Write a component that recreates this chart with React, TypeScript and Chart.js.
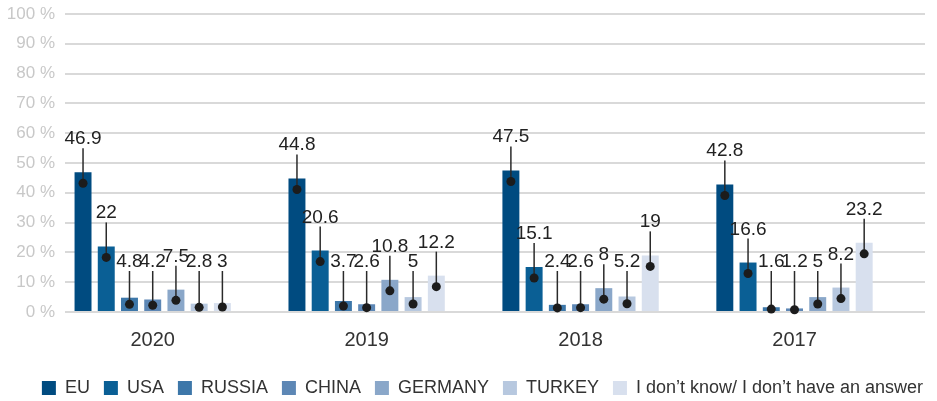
import React, { useEffect, useRef } from 'react';
import { Chart, registerables } from 'chart.js';
Chart.register(...registerables);

const years = ['2020', '2019', '2018', '2017'];
const seriesNames = ['EU', 'USA', 'RUSSIA', 'CHINA', 'GERMANY', 'TURKEY', 'I don’t know/ I don’t have an answer'];
const euValues = [46.9, 44.8, 47.5, 42.8];
const usaValues = [22, 20.6, 15.1, 16.6];
const russiaValues = [4.8, 3.7, 2.4, 1.6];
const chinaValues = [4.2, 2.6, 2.6, 1.2];
const germanyValues = [7.5, 10.8, 8, 5];
const turkeyValues = [2.8, 5, 5.2, 8.2];
const dontKnowValues = [3, 12.2, 19, 23.2];
const seriesValues = [euValues, usaValues, russiaValues, chinaValues, germanyValues, turkeyValues, dontKnowValues];
const seriesColors = ['#004b80', '#0a5f95', '#3d77a9', '#5d87b5', '#8aa7c9', '#b7c8df', '#d8e0ee'];
const yTickValues = [0, 10, 20, 30, 40, 50, 60, 70, 80, 90, 100];

const leaderLabels = {
  id: 'leaderLabels',
  afterLayout(chart: any) {
    const lg = chart.legend;
    if (lg) {
      lg.left += 20;
      lg.right += 20;
    }
  },
  afterDatasetsDraw(chart: any) {
    const ctx = chart.ctx;
    ctx.save();
    chart.data.datasets.forEach((ds: any, di: number) => {
      const meta = chart.getDatasetMeta(di);
      meta.data.forEach((bar: any, i: number) => {
        const { x, y, base } = bar.getProps(['x', 'y', 'base'], true);
        const dotY = Math.min(y + 11, (y + base) / 2);
        const lineTop = Math.min(y - 24, base - 40);
        ctx.strokeStyle = '#2a2a2a';
        ctx.lineWidth = 1.5;
        ctx.beginPath();
        ctx.moveTo(x, dotY);
        ctx.lineTo(x, lineTop);
        ctx.stroke();
        ctx.fillStyle = '#1c1c1c';
        ctx.beginPath();
        ctx.arc(x, dotY, 4.5, 0, Math.PI * 2);
        ctx.fill();
        ctx.font = '19px "Liberation Sans"';
        ctx.textAlign = 'center';
        ctx.textBaseline = 'alphabetic';
        ctx.fillStyle = '#222222';
        ctx.fillText(String(ds.data[i].y), x, lineTop - 4);
      });
    });
    ctx.restore();
  },
};

export default function App() {
  const ref = useRef<HTMLCanvasElement>(null);
  useEffect(() => {
    document.body.style.margin = '0';
    const canvas = ref.current!;
    const chart = new Chart(canvas, {
      type: 'bar',
      data: {
        datasets: seriesNames.map((name, si) => ({
          label: name,
          data: seriesValues[si].map((v, i) => ({ x: i, y: v })),
          backgroundColor: seriesColors[si],
          borderWidth: 0,
          categoryPercentage: 0.76,
          barPercentage: 0.73,
        })),
      },
      options: {
        responsive: false,
        animation: false,
        layout: { padding: { top: 14, right: 12, left: 0, bottom: -6 } },
        plugins: {
          tooltip: { enabled: false },
          legend: {
            position: 'bottom',
            labels: {
              boxWidth: 14,
              boxHeight: 14,
              padding: 14,
              color: '#333333',
              font: { family: '"Liberation Sans"', size: 18 },
            },
          },
        },
        scales: {
          x: {
            type: 'linear',
            offset: false,
            min: -0.41,
            max: 3.61,
            grid: { display: false, drawTicks: false },
            border: { display: false },
            afterBuildTicks: (axis: any) => {
              axis.ticks = years.map((_, i) => ({ value: i }));
            },
            afterFit: (scale: any) => {
              scale.height = 53;
            },
            ticks: {
              padding: 13,
              color: '#333333',
              font: { family: '"Liberation Sans"', size: 20, lineHeight: 1.5 },
              callback: (v: any) => years[v] ?? '',
            },
          },
          y: {
            min: 0,
            max: 100,
            afterFit: (scale: any) => {
              scale.width = 65;
            },
            afterBuildTicks: (axis: any) => {
              axis.ticks = yTickValues.map((v) => ({ value: v }));
            },
            grid: { color: '#d9d9d9', lineWidth: 2, drawTicks: false },
            border: { display: false },
            ticks: {
              padding: 10,
              color: '#c8c8c8',
              font: { family: '"Liberation Sans"', size: 17, lineHeight: 0.2 },
              callback: (v: any) => `${v} %`,
            },
          },
        },
      },
      plugins: [leaderLabels],
    } as any);
    return () => chart.destroy();
  }, []);
  return (
    <div style={{ width: 937, height: 401 }}>
      <canvas ref={ref} width={937} height={401} style={{ display: 'block' }} />
    </div>
  );
}
